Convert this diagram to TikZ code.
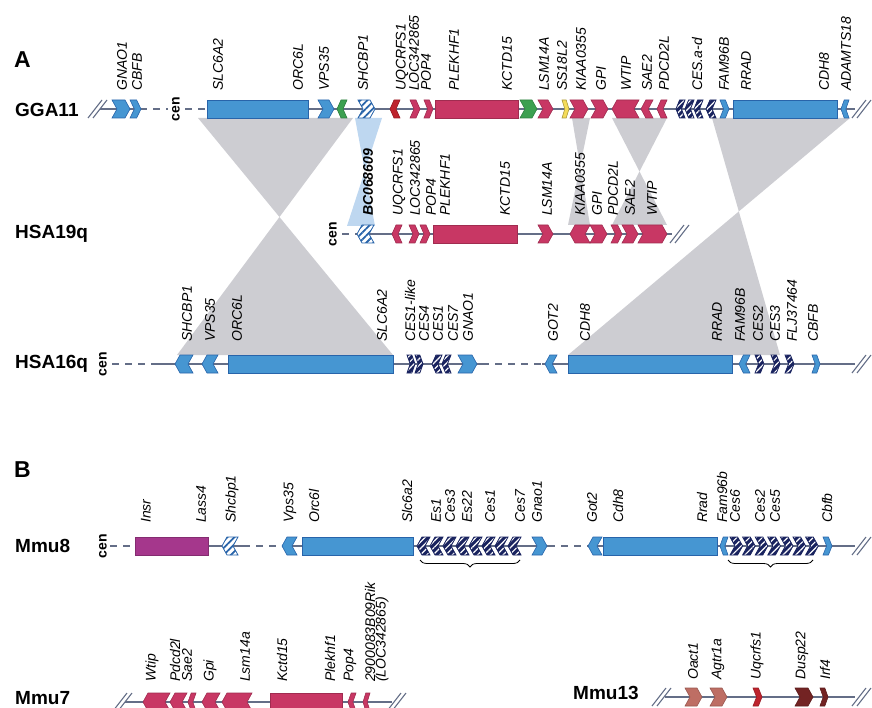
\documentclass[tikz,border=0pt]{standalone}
\usepackage{fontspec}
\setmainfont{Liberation Sans}
\usetikzlibrary{patterns.meta,decorations.pathreplacing}

\definecolor{gblue}{RGB}{70,150,210}
\definecolor{gblued}{RGB}{40,100,170}
\definecolor{gpink}{RGB}{200,55,100}
\definecolor{gred}{RGB}{190,35,45}
\definecolor{ggreen}{RGB}{60,160,80}
\definecolor{gyellow}{RGB}{245,220,90}
\definecolor{gnavy}{RGB}{25,35,95}
\definecolor{gpurple}{RGB}{165,55,140}
\definecolor{gtan}{RGB}{190,110,100}
\definecolor{gbrown}{RGB}{115,35,35}
\definecolor{gline}{RGB}{100,110,135}
\definecolor{ggrey}{RGB}{205,205,210}
\definecolor{gsky}{RGB}{190,215,240}

\newcommand{\geneR}[4]{%
  \pgfmathsetmacro\gd{min(5,0.4*(#2-#1))}
  \draw[#4] (#1,#3-9) -- ({#2-\gd},#3-9) -- (#2,#3) -- ({#2-\gd},#3+9) -- (#1,#3+9) -- ({#1+\gd},#3) -- cycle;}
\newcommand{\geneL}[4]{%
  \pgfmathsetmacro\gd{min(5,0.4*(#2-#1))}
  \draw[#4] (#2,#3-9) -- ({#1+\gd},#3-9) -- (#1,#3) -- ({#1+\gd},#3+9) -- (#2,#3+9) -- ({#2-\gd},#3) -- cycle;}
\newcommand{\chrbreak}[2]{%
  \draw[chrline] (#1,#2+9) -- (#1+14,#2-9);
  \draw[chrline] (#1+5,#2+9) -- (#1+19,#2-9);}

\begin{document}
\begin{tikzpicture}[x=1pt,y=-1pt,
  chrline/.style={draw=gline,line width=1.1pt},
  chrgap/.style={draw=gline,line width=1.1pt,dash pattern=on 7pt off 6pt},
  gb/.style={fill=gblue,draw=gblued,line width=0.6pt},
  gp/.style={fill=gpink,draw=gpink!80!black,line width=0.6pt},
  gr/.style={fill=gred,draw=gred!80!black,line width=0.6pt},
  gg/.style={fill=ggreen,draw=ggreen!80!black,line width=0.6pt},
  gy/.style={fill=gyellow,draw=gyellow!70!black,line width=0.6pt},
  gv/.style={fill=gpurple,draw=gpurple!80!black,line width=0.6pt},
  gt/.style={fill=gtan,draw=gtan!80!black,line width=0.6pt},
  gk/.style={fill=gbrown,draw=gbrown!80!black,line width=0.6pt},
  hn/.style={preaction={fill=gnavy},pattern={Lines[angle=45,distance=4.5pt,line width=1.2pt]},pattern color=white,draw=gnavy,line width=0.8pt},
  hb/.style={preaction={fill=white},pattern={Lines[angle=45,distance=5pt,line width=1.8pt]},pattern color=gblued,draw=gblued,line width=0.8pt},
  lab/.style={rotate=90,anchor=west,inner sep=0pt,font=\itshape\fontsize{14}{14}\selectfont},
  chr/.style={anchor=west,inner sep=0pt,font=\bfseries\fontsize{19}{19}\selectfont},
  cenlab/.style={rotate=90,inner sep=0pt,font=\bfseries\fontsize{14}{14}\selectfont}]
\useasboundingbox (0,0) rectangle (872,708);
\clip (0,0) rectangle (872,708);

\fill[ggrey] (198,118) -- (353,118) -- (177,355) -- (393,355) -- cycle;
\fill[gsky] (355,118) -- (382,118) -- (347,226) -- (375,226) -- cycle;
\fill[ggrey] (572,118) -- (590,118) -- (568,225) -- (590,225) -- cycle;
\fill[ggrey] (612,118) -- (667,118) -- (612,225) -- (667,225) -- cycle;
\fill[ggrey] (712,118) -- (850,118) -- (568,355) -- (780,355) -- cycle;

\node[chr,font=\bfseries\fontsize{23}{23}\selectfont] (pa) at (14,60) {A};
\node[chr,font=\bfseries\fontsize{23}{23}\selectfont] (pb) at (14,470) {B};

% GGA11
\node[chr] (gga) at (15,110) {GGA11};
\chrbreak{88}{109}
\draw[chrline] (100,109) -- (140,109);
\draw[chrgap] (140,109) -- (168,109);
\node[cenlab] (cen1) at (176,109) {cen};
\draw[chrgap] (185,109) -- (207,109);
\draw[chrline] (207,109) -- (855,109);
\chrbreak{852}{109}
\geneR{112}{130}{109}{gb}
\geneR{130}{141}{109}{gb}
\draw[gb] (207,100) rectangle (308,118);
\geneR{318}{334}{109}{gb}
\geneL{337}{347}{109}{gg}
\geneR{358}{375}{109}{hb}
\geneL{390}{400}{109}{gr}
\geneR{410}{420}{109}{gp}
\geneR{424}{433}{109}{gp}
\draw[gp] (435,100) rectangle (518,118);
\geneR{520}{537}{109}{gg}
\geneR{538}{553}{109}{gp}
\geneR{562}{569}{109}{gy}
\geneR{570}{588}{109}{gp}
\geneR{591}{608}{109}{gp}
\geneL{612}{639}{109}{gp}
\geneL{641}{653}{109}{gp}
\geneL{657}{667}{109}{gp}
\foreach \a/\b in {676/685,685/694,694/703,706/716} {\geneL{\a}{\b}{109}{hn}}
\geneR{720}{729}{109}{gb}
\draw[gb] (733,100) rectangle (837,118);
\geneL{841}{849}{109}{gb}
\foreach \x/\t in {122/GNAO1,137/CBFB,218/SLC6A2,298/ORC6L,324/VPS35,363/SHCBP1,
  402/UQCRFS1,414/LOC342865,426/POP4,454/PLEKHF1,507/KCTD15,544/LSM14A,562/SS18L2,
  581/KIAA0355,601/GPI,626/WTIP,647/SAE2,664/PDCD2L,697/CES.a-d,724/FAM96B,746/RRAD,
  824/CDH8,846/ADAMTS18}
  \node[lab] at (\x,91) {\t};

% HSA19q
\node[chr] (hsa19) at (15,234) {HSA19q};
\node[cenlab] (cen2) at (333,234) {cen};
\draw[chrgap] (342,234) -- (356,234);
\draw[chrline] (356,234) -- (672,234);
\chrbreak{670}{234}
\geneL{357}{374}{234}{hb}
\geneL{392}{402}{234}{gp}
\geneR{409}{419}{234}{gp}
\geneR{420}{430}{234}{gp}
\draw[gp] (433,225) rectangle (517,243);
\geneR{538}{553}{234}{gp}
\geneL{570}{590}{234}{gp}
\geneR{590}{607}{234}{gp}
\geneR{611}{622}{234}{gp}
\geneR{622}{638}{234}{gp}
\geneR{638}{667}{234}{gp}
\node[lab,font=\bfseries\itshape\fontsize{14}{14}\selectfont] at (368,216) {BC068609};
\foreach \x/\t in {399/UQCRFS1,415/LOC342865,431/POP4,445/PLEKHF1,505/KCTD15,547/LSM14A,
  580/KIAA0355,597/GPI,613/PDCD2L,630/SAE2,652/WTIP}
  \node[lab] at (\x,216) {\t};

% HSA16q
\node[chr] (hsa16) at (15,364) {HSA16q};
\node[cenlab] (cen3) at (103,364) {cen};
\draw[chrgap] (112,364) -- (157,364);
\draw[chrline] (157,364) -- (482,364);
\draw[chrgap] (482,364) -- (542,364);
\draw[chrline] (542,364) -- (855,364);
\chrbreak{852}{364}
\geneL{175}{193}{364}{gb}
\geneL{202}{218}{364}{gb}
\draw[gb] (228,355) rectangle (393,373);
\geneR{407}{415}{364}{hn}
\geneR{415}{423}{364}{hn}
\geneL{432}{442}{364}{hn}
\geneL{442}{451}{364}{hn}
\geneR{458}{477}{364}{gb}
\geneL{545}{557}{364}{gb}
\draw[gb] (568,355) rectangle (732,373);
\geneL{739}{750}{364}{gb}
\geneR{755}{764}{364}{hn}
\geneR{771}{780}{364}{hn}
\geneR{785}{794}{364}{hn}
\geneR{812}{820}{364}{gb}
\foreach \x/\t in {187/SHCBP1,210/VPS35,237/ORC6L,382/SLC6A2,410/CES1-like,424/CES4,
  438/CES1,453/CES7,468/GNAO1,553/GOT2,585/CDH8,717/RRAD,740/FAM96B,758/CES2,
  775/CES3,792/FLJ37464,813/CBFB}
  \node[lab] at (\x,342) {\t};

% Mmu8
\node[chr] (mmu8) at (15,546) {Mmu8};
\node[cenlab] (cen4) at (103,546) {cen};
\draw[chrgap] (110,546) -- (135,546);
\draw[chrline] (208,546) -- (243,546);
\draw[chrgap] (243,546) -- (282,546);
\draw[chrline] (282,546) -- (548,546);
\draw[chrgap] (548,546) -- (588,546);
\draw[chrline] (588,546) -- (855,546);
\chrbreak{852}{546}
\draw[gv] (135,537) rectangle (208,555);
\geneL{222}{238}{546}{hb}
\geneL{282}{297}{546}{gb}
\draw[gb] (302,537) rectangle (413,555);
\foreach \i in {0,...,7} {\geneL{417+13*\i}{430+13*\i}{546}{hn}}
\geneR{532}{547}{546}{gb}
\geneL{588}{602}{546}{gb}
\draw[gb] (603,537) rectangle (717,555);
\geneL{720}{728}{546}{gb}
\foreach \i in {0,...,6} {\geneR{730+12.6*\i}{742.6+12.6*\i}{546}{hn}}
\geneR{823}{832}{546}{gb}
\draw[decorate,decoration={brace,amplitude=7pt,mirror},line width=0.8pt] (420,560) -- (520,560);
\draw[decorate,decoration={brace,amplitude=7pt,mirror},line width=0.8pt] (728,560) -- (813,560);
\foreach \x/\t in {146/Insr,201/Lass4,232/Shcbp1,290/Vps35,314/Orc6l,407/Slc6a2,436/Es1,
  450/Ces3,467/Es22,490/Ces1,520/Ces7,537/Gnao1,592/Got2,618/Cdh8,702/Rrad,722/Fam96b,
  735/Ces6,760/Ces2,775/Ces5,827/Cbfb}
  \node[lab] at (\x,523) {\t};

% Mmu7
\node[chr] (mmu7) at (15,698) {Mmu7};
\chrbreak{113}{702}
\draw[chrline] (125,702) -- (392,702);
\chrbreak{387}{702}
\geneL{143}{170}{702}{gp}
\geneL{170}{187}{702}{gp}
\geneL{188}{196}{702}{gp}
\geneL{202}{220}{702}{gp}
\geneL{222}{252}{702}{gp}
\draw[gp] (270,693) rectangle (342,711);
\geneL{348}{356}{702}{gp}
\geneL{363}{370}{702}{gp}
\foreach \x/\t in {152/Wtip,175/Pdcd2l,187/Sae2,210/Gpi,245/Lsm14a,282/Kctd15,330/Plekhf1,
  350/Pop4,370/2900083B09Rik,382/(LOC342865)}
  \node[lab] at (\x,682) {\t};

% Mmu13
\node[chr] (mmu13) at (573,693) {Mmu13};
\chrbreak{652}{697}
\draw[chrline] (665,697) -- (855,697);
\chrbreak{852}{697}
\geneR{685}{702}{697}{gt}
\geneR{710}{727}{697}{gt}
\geneR{753}{762}{697}{gr}
\geneR{795}{813}{697}{gk}
\geneR{820}{828}{697}{gk}
\foreach \x/\t in {693/Oact1,718/Agtr1a,757/Uqcrfs1,802/Dusp22,825/Irf4}
  \node[lab] at (\x,680) {\t};
\end{tikzpicture}
\end{document}
